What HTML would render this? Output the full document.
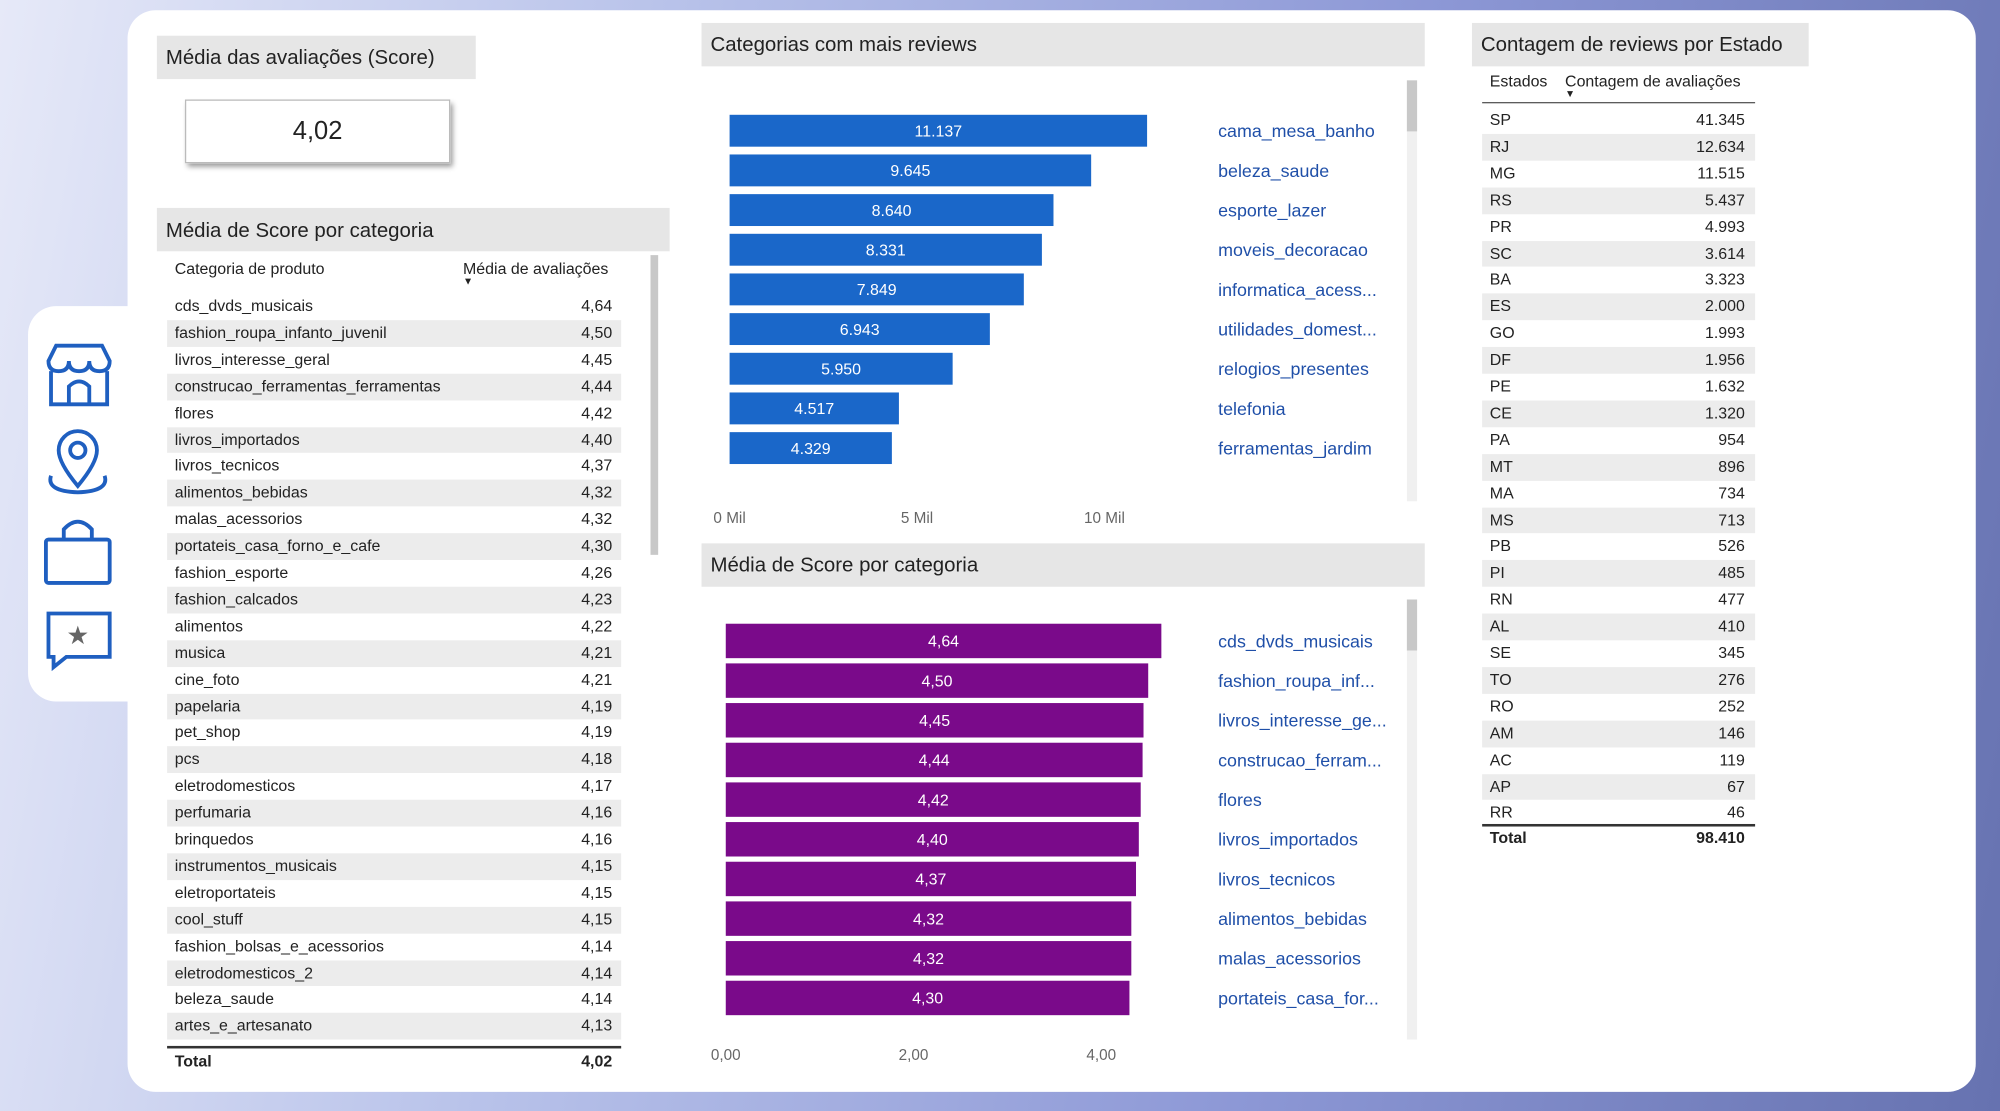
<!DOCTYPE html>
<html><head><meta charset="utf-8">
<style>
html,body{margin:0;padding:0;width:2000px;height:1111px;overflow:hidden}
body{font-family:"Liberation Sans",sans-serif;background:linear-gradient(100deg,#e6e9f8 0%,#b9c3ea 30%,#8d98d6 65%,#6672b0 100%)}
#root{position:absolute;left:0;top:0;width:1568px;height:871px;transform:scale(1.27551);transform-origin:0 0}
.card{position:absolute;left:100px;top:8px;width:1449px;height:848px;background:#fff;border-radius:22px}
.tab{position:absolute;left:22px;top:240px;width:100px;height:310px;background:#fff;border-radius:22px 0 0 22px}
.hdr{position:absolute;background:#e6e6e6;font-size:16px;color:#222;padding-left:7px;box-sizing:border-box}
.t{position:absolute;font-size:12.5px;color:#222;white-space:nowrap}
.row{position:absolute;height:20px}
svg text{font-family:"Liberation Sans",sans-serif}
</style></head><body>
<div id="root">
<div class="card"></div>
<div class="tab"></div>
<svg style="position:absolute;left:30px;top:265px" width="64" height="270">
 <g stroke="#1f5fc0" stroke-width="3" fill="none">
  <g><path d="M8 18 L14 6 H50 L56 18 Q56 26 48 26 Q40 26 40 18 Q40 26 32 26 Q24 26 24 18 Q24 26 16 26 Q8 26 8 18Z"/><path d="M10 26 V52 H54 V26"/><path d="M24 52 V38 Q32 30 40 38 V52"/></g>
  <g><path d="M31 116 Q16 98 16 88 A15 15 0 0 1 46 88 Q46 98 31 116Z"/><circle cx="31" cy="88" r="6"/><path d="M10 108 Q6 120 31 121 Q56 120 52 108"/></g>
  <g><rect x="6" y="158" width="50" height="34" rx="2"/><path d="M20 158 V150 Q31 138 42 150 V158"/></g>
  <g><path d="M8 216 H56 V250 H22 L12 258 V250 H8Z"/></g>
 </g>
 <text x="31" y="240" text-anchor="middle" font-size="20" fill="#666">★</text>
</svg>

<div class="hdr" style="left:123px;top:28px;width:250px;height:34px;line-height:36px">Média das avaliações (Score)</div>
<div style="position:absolute;left:145px;top:78px;width:206px;height:48px;border:1px solid #bbb;box-shadow:2px 3px 4px #999;font-size:20px;text-align:center;line-height:48px;color:#222">4,02</div>

<div class="hdr" style="left:123px;top:163px;width:402px;height:34px;line-height:38px">Média de Score por categoria</div>
<div class="t" style="left:137px;top:204px">Categoria de produto</div>
<div class="t" style="left:363px;top:204px">Média de avaliações<br><span style="font-size:8px;position:relative;top:-6px">▼</span></div>
<div style="position:absolute;left:510px;top:200px;width:6px;height:235px;background:#c8c8c8"></div>
<div id="catTable"></div>
<div style="position:absolute;left:131px;top:820px;width:356px;border-top:2px solid #333"></div>
<div class="t" style="left:137px;top:825px;font-weight:bold">Total</div>
<div class="t" style="left:440px;top:825px;width:40px;text-align:right;font-weight:bold">4,02</div>

<div class="hdr" style="left:550px;top:18px;width:567px;height:34px;line-height:36px">Categorias com mais reviews</div>
<svg id="chart1" style="position:absolute;left:550px;top:55px" width="570" height="370"></svg>
<div class="hdr" style="left:550px;top:426px;width:567px;height:34px;line-height:36px">Média de Score por categoria</div>
<svg id="chart2" style="position:absolute;left:550px;top:462px" width="570" height="380"></svg>

<div class="hdr" style="left:1154px;top:18px;width:264px;height:34px;line-height:36px">Contagem de reviews por Estado</div>
<div class="t" style="left:1168px;top:57px">Estados</div>
<div class="t" style="left:1227px;top:57px">Contagem de avaliações<br><span style="font-size:8px;position:relative;top:-6px">▼</span></div>
<div style="position:absolute;left:1162px;top:80px;width:214px;border-top:1px solid #555"></div>
<div id="stateTable"></div>
<div style="position:absolute;left:1162px;top:646px;width:214px;border-top:2px solid #333"></div>
<div class="t" style="left:1168px;top:650px;font-weight:bold">Total</div>
<div class="t" style="left:1300px;top:650px;width:68px;text-align:right;font-weight:bold">98.410</div>
</div>
<script>
const catNames=["cds_dvds_musicais","fashion_roupa_infanto_juvenil","livros_interesse_geral","construcao_ferramentas_ferramentas","flores","livros_importados","livros_tecnicos","alimentos_bebidas","malas_acessorios","portateis_casa_forno_e_cafe","fashion_esporte","fashion_calcados","alimentos","musica","cine_foto","papelaria","pet_shop","pcs","eletrodomesticos","perfumaria","brinquedos","instrumentos_musicais","eletroportateis","cool_stuff","fashion_bolsas_e_acessorios","eletrodomesticos_2","beleza_saude","artes_e_artesanato"];
const catScores=["4,64","4,50","4,45","4,44","4,42","4,40","4,37","4,32","4,32","4,30","4,26","4,23","4,22","4,21","4,21","4,19","4,19","4,18","4,17","4,16","4,16","4,15","4,15","4,15","4,14","4,14","4,14","4,13"];
const states=["SP","RJ","MG","RS","PR","SC","BA","ES","GO","DF","PE","CE","PA","MT","MA","MS","PB","PI","RN","AL","SE","TO","RO","AM","AC","AP","RR"];
const stateCounts=["41.345","12.634","11.515","5.437","4.993","3.614","3.323","2.000","1.993","1.956","1.632","1.320","954","896","734","713","526","485","477","410","345","276","252","146","119","67","46"];
const revCats=["cama_mesa_banho","beleza_saude","esporte_lazer","moveis_decoracao","informatica_acess...","utilidades_domest...","relogios_presentes","telefonia","ferramentas_jardim"];
const revVals=[11137,9645,8640,8331,7849,6943,5950,4517,4329];
const revTicks=[0,5000,10000];
const revTickLabels=["0 Mil","5 Mil","10 Mil"];
const scoreCats=["cds_dvds_musicais","fashion_roupa_inf...","livros_interesse_ge...","construcao_ferram...","flores","livros_importados","livros_tecnicos","alimentos_bebidas","malas_acessorios","portateis_casa_for..."];
const scoreVals=[4.64,4.50,4.45,4.44,4.42,4.40,4.37,4.32,4.32,4.30];
const scoreTicks=[0,2,4];
const scoreTickLabels=["0,00","2,00","4,00"];

function table(id,names,vals,x0,w,y0,step,valRight,prefix){
 const c=document.getElementById(id);
 names.forEach((n,i)=>{
  const r=document.createElement('div');r.className='row';
  
  
  r.style.left=x0+'px';r.style.width=w+'px';r.style.top=(y0+i*step-4)+'px';r.style.height=step+'px';
  if(i%2==1)r.style.background='#ececec';
  r.innerHTML='<span class="t" style="left:6px;top:3px">'+n+'</span><span class="t" style="right:'+valRight+'px;top:3px">'+vals[i]+'</span>';
  c.appendChild(r);
 });
}
table('catTable',catNames,catScores,131,356,234,20.9,7,'category');
table('stateTable',states,stateCounts,1162,214,88,20.9,8,'state');

const NS='http://www.w3.org/2000/svg';
function el(svg,tag,attrs,txt){const e=document.createElementNS(NS,tag);for(const k in attrs)e.setAttribute(k,attrs[k]);if(txt!==undefined)e.textContent=txt;svg.appendChild(e);return e;}
function barChart(id,cats,vals,ticks,tickLabels,opts){
 const svg=document.getElementById(id);
 const xs=v=>opts.x0+v*opts.scale;
 const ys=i=>opts.y0+i*opts.step;
 el(svg,'rect',{x:553,y:opts.sbY,width:8,height:opts.sbH,fill:'#f0f0f0'});
 el(svg,'rect',{x:553,y:opts.sbY,width:8,height:40,fill:'#c8c8c8'});
 cats.forEach((c,i)=>{
  const b=el(svg,'rect',{x:xs(0),y:ys(i),width:xs(vals[i])-xs(0),height:opts.bh,fill:opts.color});
  
  
  const t=el(svg,'text',{x:(xs(0)+xs(vals[i]))/2,y:ys(i)+opts.bh/2+4.5,'text-anchor':'middle','font-size':12.5,fill:'#fff'},opts.fmt(vals[i]));
  
  
  const l=el(svg,'text',{x:405,y:ys(i)+opts.bh/2+5,'font-size':14,fill:'#1f4fa8'},c);
  
  
 });
 ticks.forEach((t,i)=>{
  const tx=el(svg,'text',{x:xs(t),y:opts.ty,'text-anchor':'middle','font-size':12,fill:'#666'},tickLabels[i]);
  
  
 });
}
barChart('chart1',revCats,revVals,revTicks,revTickLabels,{x0:22,scale:0.02939,y0:35,step:31.1,bh:25,color:'#1a67c9',ty:355,sbY:8,sbH:330,fmt:v=>v.toLocaleString('de-DE')});
barChart('chart2',scoreCats,scoreVals,scoreTicks,scoreTickLabels,{x0:19,scale:73.6,y0:27,step:31.1,bh:27,color:'#7a0a8a',ty:369,sbY:8,sbH:345,fmt:v=>v.toFixed(2).replace('.',',')});
</script>
</body></html>
